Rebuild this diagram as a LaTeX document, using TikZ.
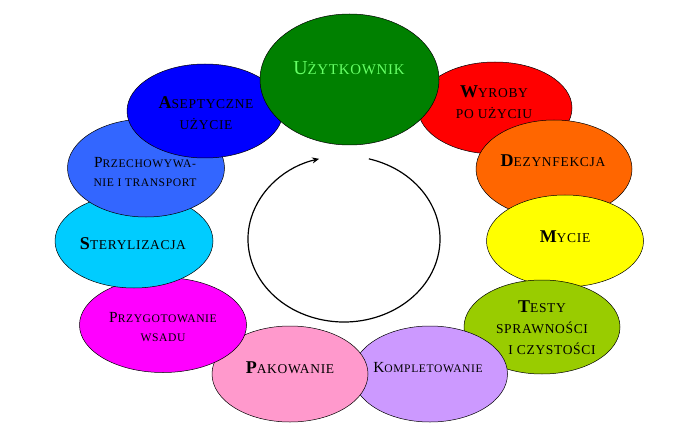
\documentclass[tikz,border=0pt]{standalone}
\usepackage{fontspec}
\setmainfont{Liberation Serif}
\newfontfamily\scf[LetterSpace=5]{Liberation Serif}
\usetikzlibrary{shapes.geometric,arrows.meta,calc}
\definecolor{cRed}{HTML}{FF0000}
\definecolor{cOrange}{HTML}{FF6600}
\definecolor{cYellow}{HTML}{FFFF00}
\definecolor{cLime}{HTML}{99CC00}
\definecolor{cLav}{HTML}{CC99FF}
\definecolor{cPink}{HTML}{FF99CC}
\definecolor{cMag}{HTML}{FF00FF}
\definecolor{cCyan}{HTML}{00CCFF}
\definecolor{cRoyal}{HTML}{3366FF}
\definecolor{cBlue}{HTML}{0000FF}
\definecolor{cGreen}{HTML}{008000}
\definecolor{cLight}{HTML}{66FF66}
\newcommand\initB[1]{{\fontsize{18}{0}\selectfont\bfseries #1}}
\newcommand\initN[2]{{\fontsize{#2}{0}\selectfont #1}}
\tikzset{
  ell/.style={ellipse, draw=black, line width=0.5pt, inner sep=0pt},
  txtA/.style={align=center, inner sep=0pt, font={\scf\fontsize{13.5}{21}\selectfont}},
  txtB/.style={align=center, inner sep=0pt, font={\scf\fontsize{11.6}{19}\selectfont}},
  txtU/.style={align=center, inner sep=0pt, text=cLight, font={\scf\fontsize{14.9}{20}\selectfont}},
  cyc/.style={line width=1.2pt, -{Stealth[length=7pt,width=6pt]}}
}
\begin{document}
\begin{tikzpicture}[x=1pt,y=-1pt]
\useasboundingbox (0,0) rectangle (700,438);
% ellipses in stacking order
\node[ell, fill=cRed,    minimum width=154pt, minimum height=92pt]  (wyr) at (495,108) {};
\node[ell, fill=cOrange, minimum width=156pt, minimum height=98pt]  (dez) at (554,169) {};
\node[ell, fill=cYellow, minimum width=157pt, minimum height=92pt]  (myc) at (565,241) {};
\node[ell, fill=cLime,   minimum width=156pt, minimum height=94pt]  (tst) at (542,327) {};
\node[ell, fill=cLav,    minimum width=155pt, minimum height=96pt]  (kom) at (430,374) {};
\node[ell, fill=cPink,   minimum width=156pt, minimum height=96pt]  (pak) at (290,374) {};
\node[ell, fill=cMag,    minimum width=167pt, minimum height=95pt]  (pwa) at (163,325) {};
\node[ell, fill=cCyan,   minimum width=158pt, minimum height=94pt]  (ste) at (134,241) {};
\node[ell, fill=cRoyal,  minimum width=157pt, minimum height=98pt]  (pch) at (146,168) {};
\node[ell, fill=cBlue,   minimum width=156pt, minimum height=94pt]  (ase) at (205,111) {};
\node[ell, fill=cGreen,  minimum width=179pt, minimum height=131pt] (uzy) at (349.5,79.5) {};
% texts
\node[txtU] (tuzy) at (349,68)  {\initN{U}{19.8}ŻYTKOWNIK};
\node[txtA] (tase) at (206,113) {\initB{A}SEPTYCZNE\\UŻYCIE};
\node[txtB] (tpch) at (145,172.5) {\initN{P}{15.4}RZECHOWYWA-\\NIE I TRANSPORT};
\node[txtA] (tste) at (133,244) {\initB{S}TERYLIZACJA};
\node[txtB] (tpwa) at (163,327.5) {\initN{P}{15.4}RZYGOTOWANIE\\WSADU};
\node[txtA] (tpak) at (290,368) {\initB{P}AKOWANIE};
\node[txtB] (tkom) at (428,368) {\initN{K}{15.4}OMPLETOWANIE};
\node[txtA] (ttst) at (542,328) {\initB{T}ESTY\\SPRAWNOŚCI\\\hspace*{20pt}I CZYSTOŚCI};
\node[txtA] (tmyc) at (565,237) {\initB{M}YCIE};
\node[txtA] (tdez) at (553,161) {\initB{D}EZYNFEKCJA};
\node[txtA] (twyr) at (494,102) {\initB{W}YROBY\\PO UŻYCIU};
% cycle arrow
\coordinate (cc) at (344,239);
\draw[cyc] ($(cc)+(75:96pt and 83pt)$) arc[start angle=75, end angle=-255, x radius=96pt, y radius=83pt];
\end{tikzpicture}
\end{document}
